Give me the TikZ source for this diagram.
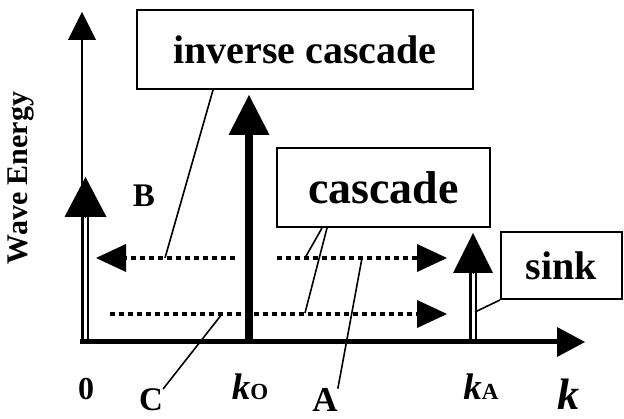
\documentclass[tikz,border=0pt]{standalone}
\usepackage{fontspec}
\setmainfont{Liberation Serif}
\usetikzlibrary{arrows.meta}
\newcommand{\lbl}[1]{\fontsize{#1}{#1}\selectfont\bfseries}
\newcommand{\kvar}[1]{{\lbl{37}\itshape k}{\lbl{23}#1}}

\begin{document}
\begin{tikzpicture}[x=1pt, y=-1pt,
    every node/.style={inner sep=0pt, font=\lbl{32}},
    labelbox/.style={draw, line width=2pt, fill=white},
    leader/.style={line width=1.6pt},
    dotflow/.style={line width=4pt, dash pattern=on 5pt off 4pt},
    railline/.style={double, line width=2.3pt, double distance=3pt}]
  \useasboundingbox (0,0) rectangle (624,419);
  % axes and energy peaks
  \draw[line width=2.5pt, -{Triangle[length=28pt, width=28pt, line width=0pt]}] (82,342) -- (82,12);
  \draw[railline] (85.5,342) -- (85.5,216);
  \draw[-{Triangle[length=40pt, width=42pt, line width=0pt]}] (85.5,218) -- (85.5,177);
  \draw[line width=8pt, -{Triangle[length=40pt, width=41pt, line width=0pt]}] (249,342) -- (249,95);
  \draw[railline] (473,342) -- (473,272);
  \draw[-{Triangle[length=40pt, width=40pt, line width=0pt]}] (473,274) -- (473,233);
  \draw[line width=5pt, -{Triangle[length=28pt, width=30pt, line width=0pt]}] (79.5,342) -- (585,342);
  % transfer paths
  \foreach \a/\b/\y in {235/96/258, 277/447/258, 110/447/314}
    \draw[dotflow, -{Triangle[length=30pt, width=28pt, line width=0pt]}] (\a,\y) -- (\b,\y);
  \coordinate (onB) at (165,258);
  \coordinate (onup) at (305,258);
  \coordinate (onlow) at (305,313);
  \coordinate (onA) at (362,258);
  \coordinate (onC) at (222,314);
  \coordinate (onsink) at (475,312);
  % boxes
  \node[labelbox, minimum width=336pt, minimum height=79pt, font=\lbl{40}] (invbox) at (305,49.5) {inverse cascade};
  \node[labelbox, minimum width=213pt, minimum height=79pt, font=\lbl{46}] (casbox) at (383.5,187.5) {cascade};
  \node[labelbox, minimum width=121pt, minimum height=67pt, font=\lbl{40}] (sinkbox) at (561.5,265.5) {sink};
  % labels
  \node[rotate=90, font=\lbl{30}] (ylabel) at (21,178) {Wave Energy};
  \node[anchor=base] (lblzero) at (86,400) {0};
  \node[anchor=base, font=\lbl{33}] (lblB) at (144,207) {B};
  \node[anchor=base, font=\lbl{33}] (lblC) at (151,411) {C};
  \node[anchor=base, font=\lbl{35}] (lblA) at (325,412) {A};
  \node[anchor=base] (lblko) at (250,400) {\kvar{O}};
  \node[anchor=base] (lblka) at (481,400) {\kvar{A}};
  \node[anchor=base, font=\lbl{44}\itshape] (lblk) at (568.5,410) {k};
  % leaders
  \draw[leader] ([xshift=-92pt]invbox.south) -- (onB);
  \draw[leader] ([xshift=-61.5pt]casbox.south) -- (onup);
  \draw[leader] ([xshift=-56.5pt]casbox.south) -- (onlow);
  \draw[leader] (sinkbox.south west) -- (onsink);
  \draw[leader] (onA) -- (lblA.north east);
  \draw[leader] (onC) -- (lblC.north east);
\end{tikzpicture}
\end{document}
